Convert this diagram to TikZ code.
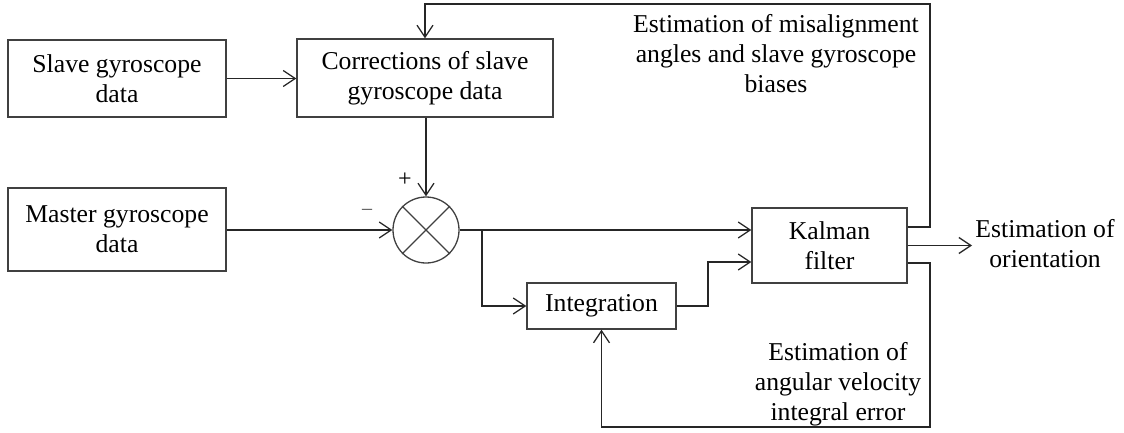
\documentclass[tikz,border=0pt]{standalone}
\usepackage{fontspec}
\setmainfont{Liberation Serif}
\usetikzlibrary{arrows.meta}
\newcommand{\fsz}{\fontsize{25.7}{30}\selectfont}
\begin{document}
\begin{tikzpicture}[x=1pt,y=-1pt,
  box/.style={draw=black!75, line width=1.3pt, inner sep=0pt, align=center, font=\fsz},
  arr/.style={draw=black!85, line width=1.3pt, -{Straight Barb[length=12pt,width=16pt,line width=1.3pt]}},
  lbl/.style={align=center, font=\fsz, inner sep=0pt}]
\useasboundingbox (0,0) rectangle (1124,432);
% blocks
\node[box, minimum width=218pt, minimum height=77pt] (slave) at (117,78.5) {Slave gyroscope\\data};
\node[box, minimum width=218pt, minimum height=83pt] (master) at (117,229.5) {Master gyroscope\\data};
\node[box, minimum width=256pt, minimum height=78pt] (corr) at (425,78) {Corrections of slave\\gyroscope data};
\node[draw=black!75, line width=1.3pt, circle, minimum size=66pt, inner sep=0pt] (sum) at (426,230) {};
\draw[draw=black!75, line width=1.3pt] (sum.45) -- (sum.225) (sum.135) -- (sum.315);
\node[box, minimum width=149pt, minimum height=46pt] (int) at (601.5,306) {Integration};
\node[box, minimum width=155pt, minimum height=75pt] (kal) at (829.5,245.5) {Kalman\\filter};
% signs
\node[font=\fontsize{24}{24}\selectfont, inner sep=0pt] (plus) at (405,180) {+};
\node[font=\fontsize{20}{20}\selectfont, inner sep=0pt, text=black!70] (minus) at (367,212) {\char"2013};
% labels
\node[lbl] (l1) at (776,54) {Estimation of misalignment\\angles and slave gyroscope\\biases};
\node[lbl] (l2) at (838,384) {Estimation of\\angular velocity\\integral error};
\node[lbl] (l3) at (1045,244) {Estimation of\\orientation};
% coordinates
\coordinate (br) at (482,230);
\coordinate (mid) at (708,306);
\coordinate (k2) at (752,262);
\coordinate (t1) at (930,4);
\coordinate (b1) at (930,427);
\coordinate (oend) at (972,245.5);
% connectors
\draw[arr] (slave.east) -- (corr.west |- slave.east);
\draw[arr] (corr.south -| sum.north) -- (sum.north);
\draw[arr] (master.east |- sum.west) -- (sum.west);
\draw[arr] (sum.east) -- (kal.west |- sum.east);
\draw[arr] (br) |- (int.west);
\draw[arr] (int.east) -- (mid) |- (kal.west |- k2);
\draw[arr] ([yshift=18.5pt]kal.east) -| (t1) -| (corr.north);
\draw[arr] (kal.east) -- (oend);
\draw[arr] ([yshift=-17.5pt]kal.east) -| (b1) -| (int.south);
\end{tikzpicture}
\end{document}
